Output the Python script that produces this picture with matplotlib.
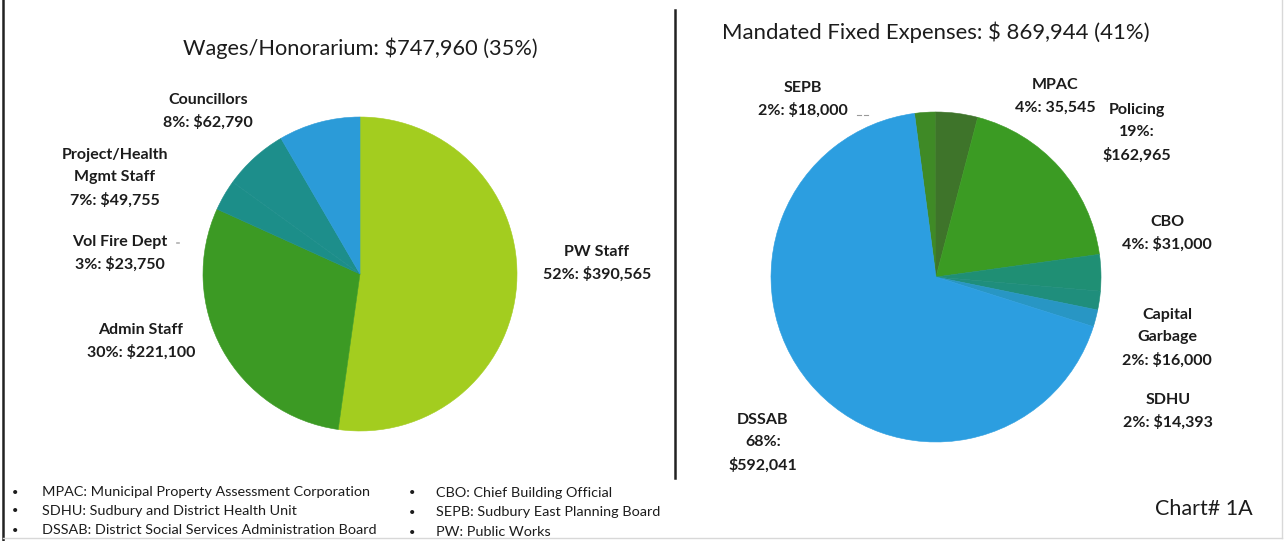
import matplotlib
matplotlib.use("Agg")
import matplotlib.pyplot as plt
from matplotlib.lines import Line2D

W, H, DPI = 1284, 541, 100

# ---- data -------------------------------------------------------------
wage_title = "Wages/Honorarium: $747,960 (35%)"
wage_names = ["PW Staff", "Admin Staff", "Vol Fire Dept",
              "Project/Health\nMgmt Staff", "Councillors"]
wage_values = [390565, 221100, 23750, 49755, 62790]

fixed_title = "Mandated Fixed Expenses: $ 869,944 (41%)"
fixed_names = ["SEPB", "MPAC", "Policing", "CBO", "Capital\nGarbage",
               "SDHU", "DSSAB"]
fixed_values = [18000, 35545, 162965, 31000, 16000, 14393, 592041]
fixed_currency = ["$", "", "$", "$", "$", "$", "$"]
fixed_split = [False, False, True, False, False, False, True]

notes_left = ["MPAC: Municipal Property Assessment Corporation",
              "SDHU: Sudbury and District Health Unit",
              "DSSAB: District Social Services Administration Board"]
notes_right = ["CBO: Chief Building Official",
               "SEPB: Sudbury East Planning Board",
               "PW: Public Works"]
chart_tag = "Chart# 1A"

# ---- styling ------------------------------------------------------------
wage_colors = ["#a3cd1f", "#3c9a24", "#1c8e89", "#1d8e8b", "#2b9bd8"]
fixed_colors = ["#3f8a26", "#3e742a", "#3b9b23", "#1f8f74", "#1f8e7c",
                "#2896c4", "#2c9ee0"]
FONT = "Lato"
TXT = "#1c1c1c"

fig = plt.figure(figsize=(W / DPI, H / DPI), dpi=DPI)
fig.patch.set_facecolor("white")


def fx(x):
    return x / W


def fy(y):
    return 1 - y / H


def pie_axes(cx, cy, r):
    return fig.add_axes([fx(cx - r), fy(cy + r), 2 * r / W, 2 * r / H])


def label_lines(values, names, currency=None, split=None):
    total = sum(values)
    out = []
    for i, (v, n) in enumerate(zip(values, names)):
        pct = round(v / total * 100)
        cur = "$" if currency is None else currency[i]
        amount = f"{cur}{v:,}"
        lines = n.split("\n")
        if split is not None and split[i]:
            lines += [f"{pct}%:", amount]
        else:
            lines += [f"{pct}%: {amount}"]
        out.append(lines)
    return out


def draw_block(lines, x, y0, step=22.5, size=11.5):
    for k, s in enumerate(lines):
        fig.text(fx(x), fy(y0 + k * step), s, ha="center", va="center",
                 fontsize=size, fontweight="bold", family=FONT, color=TXT)


def draw_pie(ax, values, colors, start):
    wedges, _ = ax.pie(values, colors=colors, startangle=start,
                       counterclock=False)
    for w, c in zip(wedges, colors):
        w.set_edgecolor(c)
        w.set_linewidth(0.4)
    ax.set_xlim(-1, 1)
    ax.set_ylim(-1, 1)
    ax.axis("off")


# ---- left pie: wages ------------------------------------------------------
axl = pie_axes(360, 274, 157)
draw_pie(axl, wage_values, wage_colors, 90)

fig.text(fx(360), fy(48), wage_title, ha="center", va="center",
         fontsize=15.7, family=FONT, color=TXT)

wl = label_lines(wage_values, wage_names)
wage_pos = [(597, 252), (141, 330), (120, 242), (115, 155), (208, 100)]
for lines, (x, y) in zip(wl, wage_pos):
    draw_block(lines, x, y)

# ---- right pie: mandated fixed expenses ----------------------------------
axr = pie_axes(936, 277, 165)
draw_pie(axr, fixed_values, fixed_colors, 97.5)

fig.text(fx(936), fy(32), fixed_title, ha="center", va="center",
         fontsize=15.9, family=FONT, color=TXT)

fl = label_lines(fixed_values, fixed_names, fixed_currency, fixed_split)
fixed_pos = [(803, 88), (1055, 85), (1137, 110), (1167, 222),
             (1167, 315), (1168, 400), (763, 420)]
for lines, (x, y) in zip(fl, fixed_pos):
    draw_block(lines, x, y)

# faint leader remnants
fig.add_artist(Line2D([fx(857), fx(861)], [fy(115), fy(115)],
                      color="#9a9a9a", lw=0.8))
fig.add_artist(Line2D([fx(864), fx(868)], [fy(115), fy(115)],
                      color="#9a9a9a", lw=0.8))
fig.add_artist(Line2D([fx(177), fx(179)], [fy(243), fy(243)],
                      color="#b0b0b0", lw=1.2))

# ---- footnotes ------------------------------------------------------------
for k, s in enumerate(notes_left):
    y = 492 + k * 19
    fig.text(fx(15), fy(y), "\u2022", ha="center", va="center",
             fontsize=8, family=FONT, color=TXT)
    fig.text(fx(42), fy(y), s, ha="left", va="center",
             fontsize=10.4, family=FONT, color=TXT)
for k, s in enumerate(notes_right):
    y = 493 + k * 19.5
    fig.text(fx(412), fy(y), "\u2022", ha="center", va="center",
             fontsize=8, family=FONT, color=TXT)
    fig.text(fx(436), fy(y), s, ha="left", va="center",
             fontsize=10.4, family=FONT, color=TXT)

fig.text(fx(1204), fy(509), chart_tag, ha="center", va="center",
         fontsize=15.5, family=FONT, color=TXT)

# ---- frame and divider ----------------------------------------------------
fig.add_artist(Line2D([fx(3), fx(3)], [0, 1], color="#222222", lw=1.8))
fig.add_artist(Line2D([fx(675), fx(675)], [fy(10), fy(478)],
                      color="#222222", lw=1.8))
fig.add_artist(Line2D([fx(1282), fx(1282)], [fy(0), fy(538)],
                      color="#d8d8d8", lw=1.0))
fig.add_artist(Line2D([fx(3), fx(1282)], [fy(538), fy(538)],
                      color="#d8d8d8", lw=1.0))

fig.savefig("out.png", dpi=DPI, facecolor="white")
